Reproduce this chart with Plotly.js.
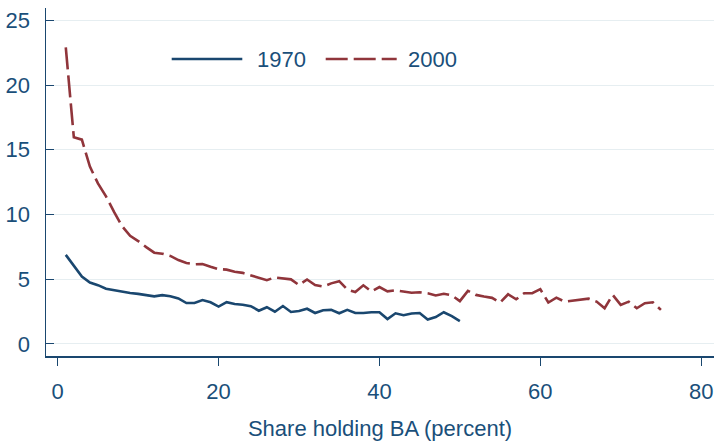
<!DOCTYPE html>
<html>
<head>
<meta charset="utf-8">
<script src="https://cdn.plot.ly/plotly-3.0.1.min.js"></script>
<style>html,body{margin:0;padding:0;background:#fff;}#chart{width:714px;height:442px;}</style>
</head>
<body>
<div id="chart"></div>
<script>
const share1970 = [1,2,3,4,5,6,7,8,9,10,11,12,13,14,15,16,17,18,19,20,21,22,23,24,25,26,27,28,29,30,31,32,33,34,35,36,37,38,39,40,41,42,43,44,45,46,47,48,49,50];
const values1970 = [6.88,6.05,5.2,4.74,4.54,4.26,4.16,4.01,3.93,3.87,3.77,3.68,3.77,3.69,3.52,3.16,3.16,3.39,3.22,2.89,3.23,3.09,3.03,2.92,2.57,2.84,2.49,2.93,2.47,2.55,2.72,2.39,2.6,2.63,2.37,2.63,2.39,2.39,2.45,2.45,1.92,2.37,2.22,2.35,2.39,1.89,2.08,2.45,2.15,1.76];
const share2000 = [1,2,3,4,5,6,7,8,9,10,11,12,13,14,15,16,17,18,19,20,21,22,23,24,25,26,27,28,29,30,31,32,33,34,35,36,37,38,39,40,41,42,43,44,45,46,47,48,49,50,51,52,53,54,55,56,57,58,59,60,61,62,63,64,65,66,67,68,69,70,71,72,73,74,75];
const values2000 = [22.9,15.96,15.78,13.7,12.4,11.4,10.2,9.1,8.35,7.95,7.48,7.05,6.97,6.8,6.48,6.26,6.15,6.18,5.97,5.78,5.74,5.58,5.49,5.3,5.14,4.93,5.14,5.05,4.99,4.55,4.98,4.55,4.43,4.68,4.85,4.2,4.01,4.53,4.06,4.4,4.06,4.14,4.06,3.96,3.99,3.91,3.75,3.88,3.75,3.31,4.1,3.79,3.66,3.56,3.2,3.84,3.45,3.92,3.92,4.23,3.2,3.58,3.27,3.35,3.38,3.5,3.27,2.76,3.79,3.02,3.27,2.76,3.15,3.22,2.63];
const seriesNames = ["1970","2000"];
const xTicks = [0,20,40,60,80];
const yTicks = [0,5,10,15,20,25];

const navy = "#1a476f", maroon = "#90353b", txt = "#1a4f7a";
const fontFam = "Liberation Sans, Arial, sans-serif";

const traces = [
  {x: share1970, y: values1970, name: seriesNames[0], type: "scatter", mode: "lines",
   line: {color: navy, width: 2.6}},
  {x: share2000, y: values2000, name: seriesNames[1], type: "scatter", mode: "lines",
   line: {color: maroon, width: 2.6, dash: "22px,6px"}}
];

function px(p){ return (p-46)/668; }
function py(p){ return (356-p)/348; }

const layout = {
  width: 714, height: 442,
  margin: {l: 46, r: 0, t: 8, b: 86, pad: 0},
  paper_bgcolor: "#fff", plot_bgcolor: "#fff",
  showlegend: false,
  font: {family: fontFam, size: 22, color: txt},
  xaxis: {
    range: [-1.46, 81.6], tickvals: xTicks, ticktext: xTicks.map(String),
    showgrid: false, zeroline: false, showline: true, linecolor: navy, linewidth: 1.5,
    ticks: "outside", ticklen: 8, tickwidth: 1, tickcolor: navy,
    ticklabelstandoff: 7,
    tickfont: {family: fontFam, size: 22, color: txt},
    title: {text: "Share holding BA (percent)", font: {family: fontFam, size: 22, color: txt}, standoff: 17}
  },
  yaxis: {
    range: [-0.93, 25.95], tickvals: yTicks, ticktext: yTicks.map(String),
    showgrid: true, gridcolor: "#e6eef1", gridwidth: 1, zeroline: false,
    showline: true, linecolor: navy, linewidth: 1.5,
    ticks: "inside", ticklen: 7.5, tickwidth: 1, tickcolor: navy,
    ticklabelstandoff: 10,
    tickfont: {family: fontFam, size: 22, color: txt}
  },
  shapes: [
    {type: "line", xref: "paper", yref: "paper", x0: px(171.7), x1: px(242.3), y0: py(59), y1: py(59),
     line: {color: navy, width: 2.6}},
    {type: "line", xref: "paper", yref: "paper", x0: px(325.7), x1: px(396.7), y0: py(59), y1: py(59),
     line: {color: maroon, width: 2.6, dash: "22px,6px"}}
  ],
  annotations: [
    {xref: "paper", yref: "paper", x: px(255), y: py(59), xanchor: "left", yanchor: "middle",
     text: seriesNames[0], showarrow: false, font: {family: fontFam, size: 22, color: txt}},
    {xref: "paper", yref: "paper", x: px(406), y: py(59), xanchor: "left", yanchor: "middle",
     text: seriesNames[1], showarrow: false, font: {family: fontFam, size: 22, color: txt}}
  ]
};

Plotly.newPlot("chart", traces, layout, {displayModeBar: false, staticPlot: true});
</script>
</body>
</html>
